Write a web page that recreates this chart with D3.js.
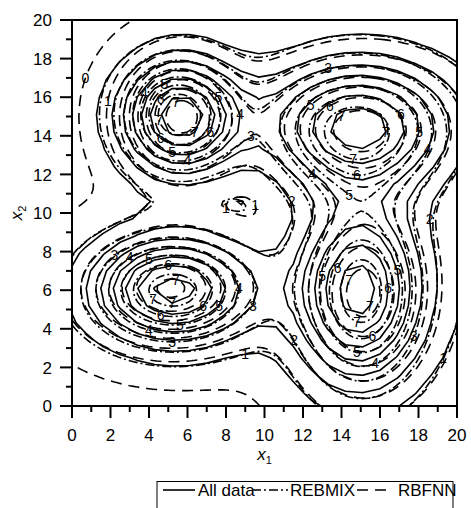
<!DOCTYPE html>
<html>
<head>
<meta charset="utf-8">
<script src="https://cdn.jsdelivr.net/npm/d3@7"></script>
<style>
  body { margin: 0; background: #fff; }
  text { font-family: Arial, "Liberation Sans", sans-serif; fill: #000; }
</style>
</head>
<body>
<script>
// Setup reference values
const w = 471;
const h = 508;
const tickValues = d3.range(0, 21, 2);
const minorValues = d3.range(1, 20, 2);
const levels = [1, 2, 3, 4, 5, 6, 7];
const rbfLevels = [0, 1, 2, 3, 4, 5, 6, 7];

// Mixture components (centre x, centre y, spread x, spread y, peak)
// All data
const allMx = [5.6, 14.8, 5.3, 14.8, 17];
const allMy = [15.0, 14.6, 6.0, 5.9, 9];
const allSx = [2.1, 3.3, 2.8, 2.2, 5];
const allSy = [2.05, 2.2, 1.9, 3.1, 6];
const allPk = [7.8, 7.0, 7.5, 6.8, 1.0];
// REBMIX
const rebMx = [5.5, 14.7, 5.2, 15.0, 17];
const rebMy = [15.1, 14.4, 6.0, 5.8, 9];
const rebSx = [2.0, 3.2, 2.9, 2.1, 5];
const rebSy = [2.0, 2.3, 1.95, 3.2, 6];
const rebPk = [7.9, 7.2, 7.6, 7.0, 1.0];
// RBFNN
const rbfMx = [5.6, 14.9, 5.1, 15.1, 17];
const rbfMy = [15.0, 14.5, 6.1, 5.7, 9];
const rbfSx = [2.0, 3.4, 3.0, 2.3, 5];
const rbfSy = [2.15, 2.3, 2.0, 3.3, 6];
const rbfPk = [7.6, 7.0, 7.4, 6.8, 1.1];
const rbfBias = -0.25;

// Setup the canvas
const svg = d3.select("body").append("svg")
  .attr("width", w)
  .attr("height", h);

const xScale = d3.scaleLinear().domain([0, 20]).range([72, 457]);
const yScale = d3.scaleLinear().domain([0, 20]).range([406, 20]);

svg.append("defs").append("clipPath").attr("id", "plot")
  .append("rect")
  .attr("x", xScale(0)).attr("y", yScale(20))
  .attr("width", xScale(20) - xScale(0))
  .attr("height", yScale(0) - yScale(20));

// density grid from the components
function makeGrid(mx, my, sx, sy, pk, bias, step) {
  const x0 = -2;
  const n = Math.round(24 / step) + 1;
  const vals = new Array(n * n);
  for (let j = 0; j < n; j++) {
    for (let i = 0; i < n; i++) {
      const x = x0 + i * step, y = x0 + j * step;
      let v = bias;
      for (let k = 0; k < mx.length; k++) {
        const dx = x - mx[k], dy = y - my[k];
        v += pk[k] * Math.exp(-(dx * dx) / (2 * sx[k] * sx[k]) - (dy * dy) / (2 * sy[k] * sy[k]));
      }
      vals[i + j * n] = v;
    }
  }
  return { n, step, x0, vals };
}

const series = [
  { name: "All data", grid: makeGrid(allMx, allMy, allSx, allSy, allPk, 0, 0.9), levels: levels, dash: null, frac: 0.12 },
  { name: "REBMIX", grid: makeGrid(rebMx, rebMy, rebSx, rebSy, rebPk, 0, 0.2), levels: levels, dash: "9,3,2,3", frac: 0.45 },
  { name: "RBFNN", grid: makeGrid(rbfMx, rbfMy, rbfSx, rbfSy, rbfPk, rbfBias, 0.2), levels: rbfLevels, dash: "11,7", frac: 0.78 }
];

const plotG = svg.append("g").attr("clip-path", "url(#plot)");
const labelG = svg.append("g");
const placedLabels = [];

series.forEach((s) => {
  const g = s.grid;
  const toPx = (p) => [xScale(g.x0 + (p[0] - 0.5) * g.step), yScale(g.x0 + (p[1] - 0.5) * g.step)];
  const proj = d3.geoTransform({
    point: function(x, y) {
      const p = toPx([x, y]);
      this.stream.point(p[0], p[1]);
    }
  });
  const path = d3.geoPath(proj);
  const contours = d3.contours().size([g.n, g.n]).thresholds(s.levels)(g.vals);

  plotG.selectAll(null)
    .data(contours)
    .enter()
    .append("path")
    .attr("d", path)
    .attr("fill", "none")
    .attr("stroke", "#000")
    .attr("stroke-width", 1.6)
    .attr("stroke-dasharray", s.dash);

  // contour labels, one per ring, kept apart from each other
  contours.forEach((c) => {
    c.coordinates.forEach((poly) => {
      poly.forEach((ring) => {
        const pts = ring.map(toPx);
        const cum = [0];
        for (let i = 1; i < pts.length; i++) {
          cum.push(cum[i - 1] + Math.hypot(pts[i][0] - pts[i - 1][0], pts[i][1] - pts[i - 1][1]));
        }
        const total = cum[cum.length - 1];
        if (total < 50) return;
        for (let t = 0; t < 24; t++) {
          const target = ((s.frac + t * 0.0417) % 1) * total;
          const i = d3.bisectLeft(cum, target);
          const p = pts[Math.min(i, pts.length - 1)];
          const inside = p[0] > xScale(0) + 8 && p[0] < xScale(20) - 8 && p[1] > yScale(20) + 8 && p[1] < yScale(0) - 8;
          const free = placedLabels.every((q) => Math.hypot(q[0] - p[0], q[1] - p[1]) > 15);
          if (inside && free) {
            placedLabels.push(p);
            labelG.append("text")
              .attr("x", p[0])
              .attr("y", p[1])
              .attr("dy", "0.35em")
              .attr("text-anchor", "middle")
              .attr("font-size", 14)
              .text(c.value);
            break;
          }
        }
      });
    });
  });
});

// Setup the axes
const axisG = svg.append("g");
axisG.append("rect")
  .attr("x", xScale(0)).attr("y", yScale(20))
  .attr("width", xScale(20) - xScale(0))
  .attr("height", yScale(0) - yScale(20))
  .attr("fill", "none")
  .attr("stroke", "#000")
  .attr("stroke-width", 2);

tickValues.forEach((v) => {
  axisG.append("line")
    .attr("x1", xScale(v)).attr("x2", xScale(v))
    .attr("y1", yScale(0)).attr("y2", yScale(0) + 12)
    .attr("stroke", "#000").attr("stroke-width", 2);
  axisG.append("text")
    .attr("x", xScale(v)).attr("y", 441)
    .attr("text-anchor", "middle")
    .attr("font-size", 17)
    .text(v);
  axisG.append("line")
    .attr("x1", xScale(0) - 12).attr("x2", xScale(0))
    .attr("y1", yScale(v)).attr("y2", yScale(v))
    .attr("stroke", "#000").attr("stroke-width", 2);
  axisG.append("text")
    .attr("x", 52).attr("y", yScale(v))
    .attr("dy", "0.36em")
    .attr("text-anchor", "end")
    .attr("font-size", 17)
    .text(v);
});
minorValues.forEach((v) => {
  axisG.append("line")
    .attr("x1", xScale(v)).attr("x2", xScale(v))
    .attr("y1", yScale(0)).attr("y2", yScale(0) + 6)
    .attr("stroke", "#000").attr("stroke-width", 2);
  axisG.append("line")
    .attr("x1", xScale(0) - 6).attr("x2", xScale(0))
    .attr("y1", yScale(v)).attr("y2", yScale(v))
    .attr("stroke", "#000").attr("stroke-width", 2);
});

// Axis titles
const xt = svg.append("text")
  .attr("x", (xScale(0) + xScale(20)) / 2)
  .attr("y", 460)
  .attr("text-anchor", "middle")
  .attr("font-size", 17);
xt.append("tspan").attr("font-style", "italic").text("x");
xt.append("tspan").attr("font-size", 11).attr("dy", 4).text("1");

const yt = svg.append("text")
  .attr("transform", `translate(22, ${(yScale(0) + yScale(20)) / 2}) rotate(-90)`)
  .attr("text-anchor", "middle")
  .attr("font-size", 17);
yt.append("tspan").attr("font-style", "italic").text("x");
yt.append("tspan").attr("font-size", 11).attr("dy", 4).text("2");

// Setup the legend
const legend = svg.append("g").attr("id", "legend");
legend.append("rect")
  .attr("x", 157).attr("y", 481.5)
  .attr("width", 296).attr("height", 50)
  .attr("fill", "none")
  .attr("stroke", "#000")
  .attr("stroke-width", 1);
const legItems = [
  { x1: 163, x2: 195, tx: 198, dash: null },
  { x1: 252, x2: 288, tx: 290, dash: "9,3,2,3" },
  { x1: 357, x2: 392, tx: 398, dash: "11,7" }
];
legItems.forEach((it, i) => {
  legend.append("line")
    .attr("x1", it.x1).attr("x2", it.x2)
    .attr("y1", 490).attr("y2", 490)
    .attr("stroke", "#000")
    .attr("stroke-width", 1.6)
    .attr("stroke-dasharray", it.dash);
  legend.append("text")
    .attr("x", it.tx).attr("y", 495.5)
    .attr("font-size", 17)
    .text(series[i].name);
});
</script>
</body>
</html>
